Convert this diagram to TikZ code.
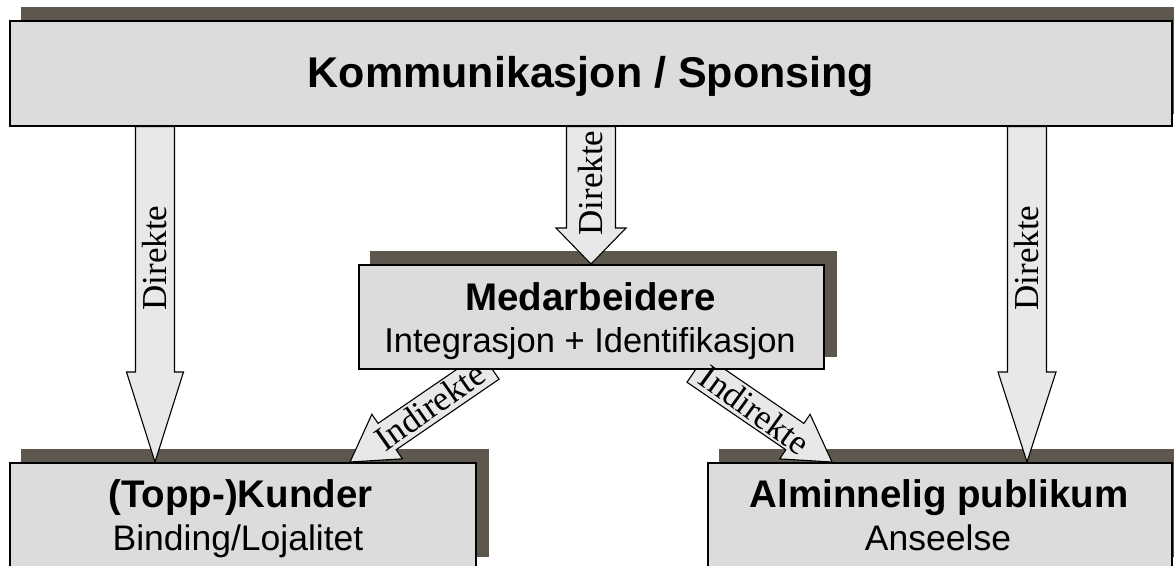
\documentclass[tikz,border=0pt]{standalone}
\usepackage{fontspec}
\setmainfont{Liberation Sans}
\newfontfamily\serifarrow{Liberation Serif}
\usetikzlibrary{calc}
\definecolor{boxfill}{HTML}{DCDCDC}
\definecolor{arrowfill}{HTML}{E8E8E8}
\definecolor{shadowc}{HTML}{5E574E}
\pgfdeclarelayer{shadowlayer}
\pgfdeclarelayer{arrowlayer}
\pgfsetlayers{shadowlayer,arrowlayer,main}
\newcommand\fatarrow[5]{%
  \coordinate (fab) at ($(#2)!#5!(#1)$);
  \filldraw[fatarrowstyle] ($(#1)!#3!-90:(#2)$) -- ($(fab)!#3!90:(#1)$) -- ($(fab)!#4!90:(#1)$) -- (#2) -- ($(fab)!#4!-90:(#1)$) -- ($(fab)!#3!-90:(#1)$) -- ($(#1)!#3!90:(#2)$) -- cycle;
}
\newcommand\dropshadow[1]{%
  \fill[shadowc] ([shift={(12,-13)}]#1.south west) rectangle ([shift={(12,-13)}]#1.north east);
}
\begin{document}
\begin{tikzpicture}[x=1pt,y=-1pt,
  box/.style={draw=black, line width=1.5pt, fill=boxfill, inner sep=0pt, anchor=north west},
  txt/.style={inner sep=0pt, anchor=base},
  headtxt/.style={txt, font=\fontsize{38.5pt}{44pt}\selectfont\bfseries},
  subtxt/.style={txt, font=\fontsize{35.5pt}{42pt}\selectfont},
  fatarrowstyle/.style={draw=black, line width=1.1pt, fill=arrowfill, line join=miter},
  lbl/.style={font=\serifarrow\fontsize{35pt}{40pt}\selectfont, inner sep=0pt}]
\useasboundingbox (0,0) rectangle (1174,565);
% boxes
\node[box, minimum width=1162pt, minimum height=105pt] (kom) at (9,20) {};
\node[box, minimum width=465pt, minimum height=104pt] (med) at (358,264) {};
\node[box, minimum width=466pt, minimum height=106pt] (kund) at (9,462) {};
\node[box, minimum width=464pt, minimum height=106pt] (alm) at (707,462) {};
% box texts
\node[txt, font=\fontsize{43pt}{50pt}\selectfont\bfseries] (kom-t) at (591,87) {Kommunikasjon / Sponsing};
\node[headtxt] (med-t1) at (590.5,310) {Medarbeidere};
\node[txt, font=\fontsize{34.5pt}{42pt}\selectfont] (med-t2) at (590,352) {Integrasjon + Identifikasjon};
\node[headtxt] (kund-t1) at (240.5,507) {(Topp-)Kunder};
\node[subtxt] (kund-t2) at (238,550) {Binding/Lojalitet};
\node[headtxt] (alm-t1) at (939,507) {Alminnelig publikum};
\node[subtxt] (alm-t2) at (938,550) {Anseelse};
% shadows
\begin{pgfonlayer}{shadowlayer}
  \dropshadow{kom}
  \dropshadow{med}
  \dropshadow{kund}
  \dropshadow{alm}
\end{pgfonlayer}
% connector end points
\coordinate (dl-s) at (155,0 |- kom.south);
\coordinate (dl-t) at (155,0 |- kund.north);
\coordinate (dm-s) at (591,0 |- kom.south);
\coordinate (dm-t) at (591,0 |- med.north);
\coordinate (dr-s) at (1027,0 |- kom.south);
\coordinate (dr-t) at (1027,0 |- alm.north);
\coordinate (il-s) at (490,366);
\coordinate (il-t) at (350,0 |- kund.north);
\coordinate (ir-s) at (696,369);
\coordinate (ir-t) at (832,0 |- alm.north);
% arrows
\begin{pgfonlayer}{arrowlayer}
  \fatarrow{dl-s}{dl-t}{19.5pt}{28.5pt}{90pt}
  \fatarrow{dr-s}{dr-t}{19.5pt}{29pt}{90pt}
  \fatarrow{dm-s}{dm-t}{24.5pt}{35pt}{36pt}
  \fatarrow{il-s}{il-t}{16pt}{27pt}{45pt}
  \fatarrow{ir-s}{ir-t}{16pt}{27pt}{45pt}
\end{pgfonlayer}
% arrow labels
\node[lbl, rotate=90] (dl-l) at (155,258) {Direkte};
\node[lbl, rotate=90] (dm-l) at (591,183) {Direkte};
\node[lbl, rotate=90] (dr-l) at (1027,258) {Direkte};
\node[lbl, rotate=35] (il-l) at (430,406) {Indirekte};
\node[lbl, rotate=-36] (ir-l) at (755,410) {Indirekte};
\end{tikzpicture}
\end{document}
